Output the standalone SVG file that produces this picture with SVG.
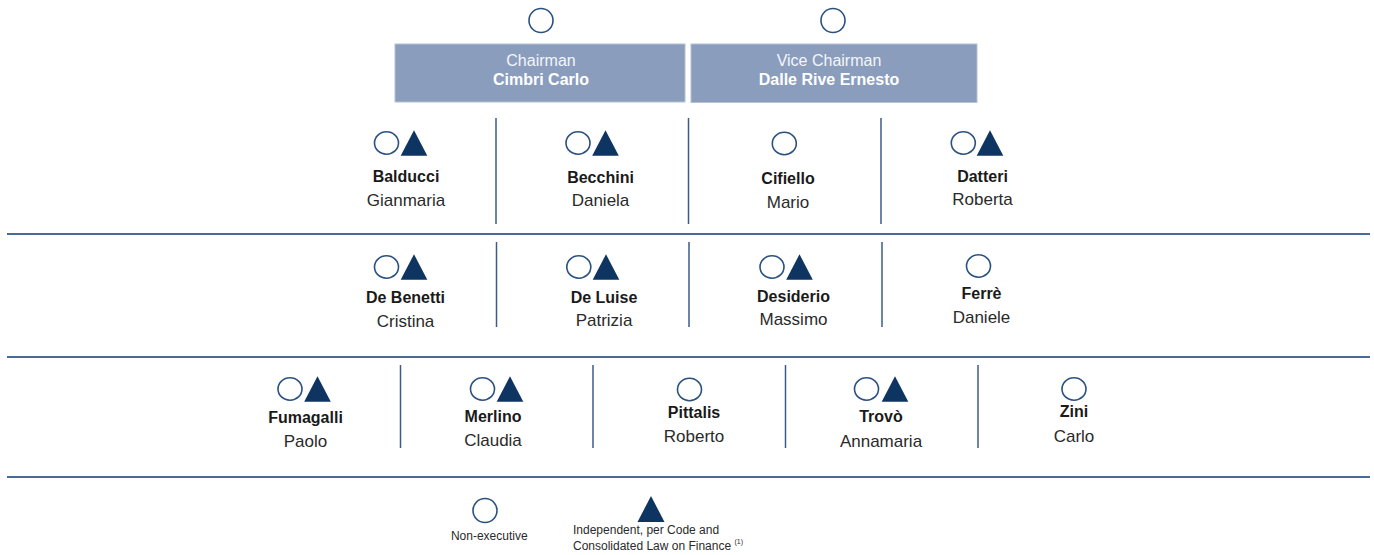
<svg xmlns="http://www.w3.org/2000/svg" xmlns:xlink="http://www.w3.org/1999/xlink" width="1374" height="555" viewBox="0 0 1374 555">
<style>
.bg{fill:#ffffff}
.box{fill:#8a9dbd;stroke:#b4c1d6;stroke-width:1}
.role{font-family:"Liberation Sans",Arial,sans-serif;font-size:16px;fill:#f4f6fa;text-anchor:middle}
.boxname{font-family:"Liberation Sans",Arial,sans-serif;font-size:16px;font-weight:bold;fill:#ffffff;text-anchor:middle}
.ne{fill:none;stroke:#2b5180;stroke-width:1.6}
.ind{fill:#0e3462}
.sur{font-family:"Liberation Sans",Arial,sans-serif;font-size:16px;font-weight:bold;fill:#1a1a1a;text-anchor:middle}
.first{font-family:"Liberation Sans",Arial,sans-serif;font-size:17px;fill:#2a2a2a;text-anchor:middle}
.sep{stroke:#4a6a98;stroke-width:2}
.div{stroke:#3a5c8b;stroke-width:1.5}
.leg{font-family:"Liberation Sans",Arial,sans-serif;font-size:12px;fill:#2a2a2a}
.sup{font-family:"Liberation Sans",Arial,sans-serif;font-size:7px;fill:#2a2a2a}
</style>
<defs>
<ellipse id="c" class="ne" rx="12" ry="11.2"/>
<polygon id="t" class="ind" points="0,-12.8 13.3,12.8 -13.3,12.8"/>
</defs>
<rect class="bg" x="0" y="0" width="1374" height="555"/>

<g id="connectors">
<line class="sep" x1="7" y1="234" x2="1370" y2="234"/>
<line class="sep" x1="7" y1="357" x2="1370" y2="357"/>
<line class="sep" x1="7" y1="477" x2="1370" y2="477"/>
<line class="div" x1="496" y1="118" x2="496" y2="224"/>
<line class="div" x1="688.5" y1="118" x2="688.5" y2="224"/>
<line class="div" x1="881" y1="118" x2="881" y2="224"/>
<line class="div" x1="496.5" y1="242" x2="496.5" y2="327"/>
<line class="div" x1="689" y1="242" x2="689" y2="327"/>
<line class="div" x1="882" y1="242" x2="882" y2="327"/>
<line class="div" x1="400.5" y1="365" x2="400.5" y2="448"/>
<line class="div" x1="593" y1="365" x2="593" y2="448"/>
<line class="div" x1="785.5" y1="365" x2="785.5" y2="448"/>
<line class="div" x1="978" y1="365" x2="978" y2="448"/>
</g>

<g id="chairman">
<circle class="ne" cx="541" cy="20.5" r="12"/>
<rect class="box" x="395" y="44" width="290" height="58"/>
<text class="role" x="541" y="66">Chairman</text>
<text class="boxname" x="541" y="84.5">Cimbri Carlo</text>
</g>
<g id="vice-chairman">
<circle class="ne" cx="833" cy="20.5" r="12"/>
<rect class="box" x="691" y="44" width="286" height="58.5"/>
<text class="role" x="829" y="66">Vice Chairman</text>
<text class="boxname" x="829" y="84.5">Dalle Rive Ernesto</text>
</g>

<g id="balducci">
<use xlink:href="#c" x="386.5" y="143"/><use xlink:href="#t" x="414" y="143"/>
<text class="sur" x="406" y="182">Balducci</text>
<text class="first" x="406" y="205.5">Gianmaria</text>
</g>
<g id="becchini">
<use xlink:href="#c" x="578" y="143"/><use xlink:href="#t" x="605.5" y="143"/>
<text class="sur" x="600.5" y="183">Becchini</text>
<text class="first" x="600.5" y="206">Daniela</text>
</g>
<g id="cifiello">
<use xlink:href="#c" x="784.3" y="143.5"/>
<text class="sur" x="788" y="183.5">Cifiello</text>
<text class="first" x="788" y="207.5">Mario</text>
</g>
<g id="datteri">
<use xlink:href="#c" x="963.3" y="143"/><use xlink:href="#t" x="990" y="143"/>
<text class="sur" x="982.5" y="181.5">Datteri</text>
<text class="first" x="982.5" y="205">Roberta</text>
</g>

<g id="de-benetti">
<use xlink:href="#c" x="386.5" y="267"/><use xlink:href="#t" x="414" y="267"/>
<text class="sur" x="405.5" y="303">De Benetti</text>
<text class="first" x="405.5" y="327">Cristina</text>
</g>
<g id="de-luise">
<use xlink:href="#c" x="578.8" y="267"/><use xlink:href="#t" x="606" y="267"/>
<text class="sur" x="604" y="302.5">De Luise</text>
<text class="first" x="604" y="326">Patrizia</text>
</g>
<g id="desiderio">
<use xlink:href="#c" x="772" y="267"/><use xlink:href="#t" x="799.5" y="267"/>
<text class="sur" x="793.5" y="302">Desiderio</text>
<text class="first" x="793.5" y="325">Massimo</text>
</g>
<g id="ferre">
<use xlink:href="#c" x="978.5" y="266"/>
<text class="sur" x="981.5" y="298.5">Ferrè</text>
<text class="first" x="981.5" y="322.5">Daniele</text>
</g>

<g id="fumagalli">
<use xlink:href="#c" x="290" y="389"/><use xlink:href="#t" x="317.5" y="389"/>
<text class="sur" x="305.5" y="423">Fumagalli</text>
<text class="first" x="305.5" y="447">Paolo</text>
</g>
<g id="merlino">
<use xlink:href="#c" x="482.5" y="389"/><use xlink:href="#t" x="510" y="389"/>
<text class="sur" x="493" y="421.5">Merlino</text>
<text class="first" x="493" y="446">Claudia</text>
</g>
<g id="pittalis">
<use xlink:href="#c" x="689.5" y="389.5"/>
<text class="sur" x="694" y="418">Pittalis</text>
<text class="first" x="694" y="442">Roberto</text>
</g>
<g id="trovo">
<use xlink:href="#c" x="866.5" y="389"/><use xlink:href="#t" x="895" y="389"/>
<text class="sur" x="881" y="422">Trovò</text>
<text class="first" x="881" y="446.5">Annamaria</text>
</g>
<g id="zini">
<use xlink:href="#c" x="1074" y="389"/>
<text class="sur" x="1074" y="417">Zini</text>
<text class="first" x="1074" y="442">Carlo</text>
</g>

<g id="legend-non-executive">
<circle class="ne" cx="485" cy="510.5" r="12"/>
<text class="leg" x="489.3" y="540" text-anchor="middle">Non-executive</text>
</g>
<g id="legend-independent">
<polygon class="ind" points="651,496 664.5,522 637.5,522"/>
<text class="leg" x="573" y="533.5">Independent, per Code and</text>
<text class="leg" x="573" y="550">Consolidated Law on Finance <tspan class="sup" dy="-6">(1)</tspan></text>
</g>
</svg>
